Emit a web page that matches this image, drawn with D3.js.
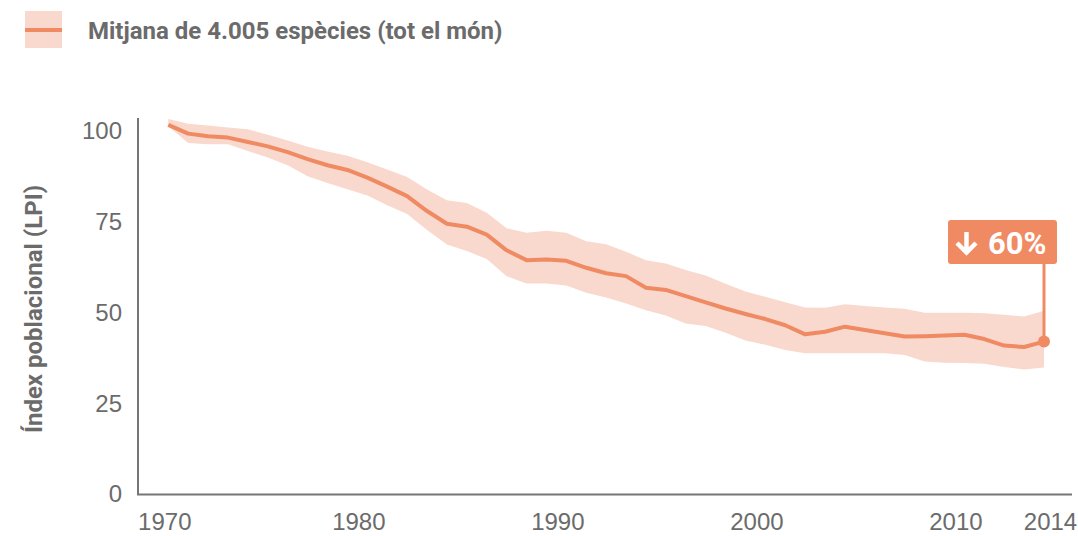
<!DOCTYPE html>
<html>
<head>
<meta charset="utf-8">
<script src="https://cdn.jsdelivr.net/npm/d3@7"></script>
<style>
    body { margin: 0; background: #fff; }
    svg { display: block; font-family: Roboto, "Noto Sans", sans-serif; }
</style>
</head>
<body>
<script>
"use strict";

// years of the index
const years = d3.range(1970, 2015);

// mean LPI
const meanValues = [101.6, 99.2, 98.5, 98.1, 96.9, 95.7, 94.1, 92.2, 90.5, 89.2,
    87.1, 84.6, 82.0, 77.9, 74.4, 73.6, 71.4, 67.1, 64.4, 64.6,
    64.2, 62.3, 60.8, 60.0, 56.8, 56.2, 54.5, 52.8, 51.1, 49.6,
    48.2, 46.5, 44.0, 44.7, 46.1, 45.2, 44.3, 43.4, 43.5, 43.7,
    43.9, 42.7, 40.9, 40.5, 42.0];

// upper and lower limits of the confidence band
const upperValues = [103.2, 101.9, 101.4, 100.9, 100.4, 98.9, 97.3, 95.6, 94.3, 93.1,
    91.3, 89.3, 87.3, 83.8, 80.9, 80.1, 77.4, 73.2, 71.9, 72.5,
    71.9, 69.6, 68.8, 66.7, 64.4, 63.5, 61.7, 60.2, 57.9, 55.8,
    54.3, 52.8, 51.4, 51.3, 52.3, 51.8, 51.4, 51.0, 49.9, 49.9,
    49.9, 49.8, 49.4, 48.9, 50.5];
const lowerValues = [101.2, 96.6, 96.3, 96.3, 94.4, 92.6, 90.5, 87.5, 85.6, 83.9,
    82.2, 79.5, 77.1, 72.7, 68.7, 66.9, 64.7, 60.0, 58.0, 58.0,
    57.4, 55.4, 54.1, 52.5, 50.6, 49.2, 47.0, 46.3, 44.4, 42.3,
    41.1, 39.7, 38.8, 38.8, 38.8, 38.8, 38.8, 38.3, 36.5, 36.2,
    36.1, 35.9, 35.0, 34.3, 34.9];

const xTicks = [1970, 1980, 1990, 2000, 2010, 2014];
const yTicks = [0, 25, 50, 75, 100];
const legendLabel = "Mitjana de 4.005 espècies (tot el món)";
const yLabel = "Índex poblacional (LPI)";
const changeLabel = "60%";

const colors = {
    line: "#EF8A62",
    band: "#F9D9CD",
    axis: "#767676",
    text: "#6B6B6B"
};

const measurements = {
    width: 1078,
    height: 536,
    axisX: 138,
    axisY: 494.5,
    axisTop: 118,
    axisRight: 1072
};

const data = years.map((year, i) => ({
    year: year,
    mean: meanValues[i],
    upper: upperValues[i],
    lower: lowerValues[i]
}));

const svg = d3.select("body").append("svg")
    .attr("width", measurements.width)
    .attr("height", measurements.height);

const scaleX = d3.scaleLinear()
    .domain([1970, 2014])
    .range([168.3, 1044]);

const scaleY = d3.scaleLinear()
    .domain([0, 100])
    .range([494.3, 130.7]);

// confidence band
const band = d3.area()
    .x(d => scaleX(d.year))
    .y0(d => scaleY(d.lower))
    .y1(d => scaleY(d.upper));

svg.append("path")
    .datum(data)
    .attr("d", band)
    .attr("fill", colors.band);

// mean line
const line = d3.line()
    .x(d => scaleX(d.year))
    .y(d => scaleY(d.mean));

svg.append("path")
    .datum(data)
    .attr("d", line)
    .attr("fill", "none")
    .attr("stroke", colors.line)
    .attr("stroke-width", 4)
    .attr("stroke-linejoin", "round");

// axes
const xAxis = d3.axisBottom(scaleX)
    .tickValues(xTicks)
    .tickFormat(d3.format("d"))
    .tickSize(0)
    .tickPadding(18.5);

const gx = svg.append("g")
    .attr("transform", `translate(0,${measurements.axisY})`)
    .call(xAxis);
gx.select(".domain").remove();
gx.selectAll("text")
    .attr("fill", colors.text)
    .style("font-size", "24px")
    .attr("dx", d => d === 2014 ? 6 : (d === 1970 ? -4 : -9));

const yAxis = d3.axisLeft(scaleY)
    .tickValues(yTicks)
    .tickSize(0)
    .tickPadding(16);

const gy = svg.append("g")
    .attr("transform", `translate(${measurements.axisX},0)`)
    .call(yAxis);
gy.select(".domain").remove();
gy.selectAll("text")
    .attr("fill", colors.text)
    .style("font-size", "24px");

// axis lines
svg.append("path")
    .attr("d", `M${measurements.axisX},${measurements.axisTop}V${measurements.axisY}H${measurements.axisRight}`)
    .attr("fill", "none")
    .attr("stroke", colors.axis)
    .attr("stroke-width", 2);

svg.append("text")
    .attr("transform", "translate(42,309) rotate(-90)")
    .attr("text-anchor", "middle")
    .attr("fill", colors.text)
    .style("font-size", "24px")
    .style("font-weight", "bold")
    .text(yLabel);

// annotation for the last value
const last = data[data.length - 1];
const lx = scaleX(last.year);
const ly = scaleY(last.mean);

svg.append("line")
    .attr("x1", lx).attr("x2", lx)
    .attr("y1", 262).attr("y2", ly)
    .attr("stroke", colors.line)
    .attr("stroke-width", 3);

svg.append("circle")
    .attr("cx", lx)
    .attr("cy", ly)
    .attr("r", 6)
    .attr("fill", colors.line);

svg.append("rect")
    .attr("x", lx - 96)
    .attr("y", 220)
    .attr("width", 109)
    .attr("height", 44)
    .attr("rx", 3)
    .attr("fill", colors.line);

// down arrow
const ax = lx - 77.5;
svg.append("path")
    .attr("d", `M${ax},232V252M${ax - 9.5},243L${ax},252.5L${ax + 9.5},243`)
    .attr("fill", "none")
    .attr("stroke", "#fff")
    .attr("stroke-width", 4.5);

svg.append("text")
    .attr("x", lx - 56)
    .attr("y", 254)
    .attr("fill", "#fff")
    .style("font-size", "31px")
    .style("font-weight", "bold")
    .text(changeLabel);

// legend
svg.append("rect")
    .attr("x", 25)
    .attr("y", 11)
    .attr("width", 37)
    .attr("height", 37)
    .attr("fill", colors.band);

svg.append("line")
    .attr("x1", 25).attr("x2", 62)
    .attr("y1", 30).attr("y2", 30)
    .attr("stroke", colors.line)
    .attr("stroke-width", 4);

svg.append("text")
    .attr("x", 88)
    .attr("y", 39)
    .attr("fill", colors.text)
    .style("font-size", "24px")
    .style("font-weight", "bold")
    .text(legendLabel);
</script>
</body>
</html>
